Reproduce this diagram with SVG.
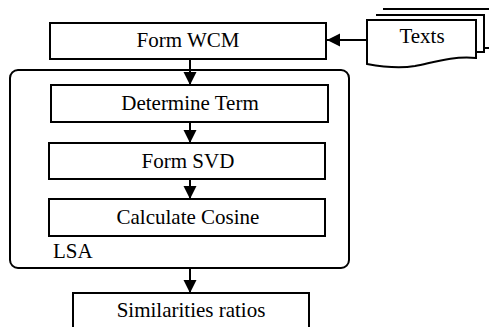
<svg xmlns="http://www.w3.org/2000/svg" width="489" height="327" viewBox="0 0 489 327">
<defs>
<style>
.box{fill:#fff;stroke:#000;stroke-width:2}
.ln{stroke:#000;stroke-width:2;fill:none}
.t{font-family:'Liberation Serif',serif;font-size:21px;fill:#000;stroke:none;text-anchor:middle}
</style>
<marker id="ah" markerWidth="13" markerHeight="14" refX="14" refY="7" orient="auto" markerUnits="userSpaceOnUse" viewBox="0 0 14 14">
<path d="M0,0 L14,7 L0,14 Z" fill="#000"/>
</marker>
</defs>
<rect width="489" height="327" fill="#fff"/>
<g id="lsa">
<rect class="box" x="10" y="70" width="339" height="198" rx="8"/>
<text class="t" x="53" y="258" style="text-anchor:start">LSA</text>
</g>
<g id="texts">
<path class="box" d="M383,9 H492 V48 H484"/>
<path class="box" d="M376,15 H484 V52 H476"/>
<path class="box" d="M367,20 H476 V58 C452,56 435,62 415,66 C398,69 383,67 367,64 Z"/>
<text class="t" x="422" y="43">Texts</text>
</g>
<g id="formwcm">
<rect class="box" x="50" y="23" width="276" height="36"/>
<text class="t" x="188" y="47">Form WCM</text>
</g>
<g id="determine">
<rect class="box" x="51" y="85" width="277" height="37"/>
<text class="t" x="190" y="110">Determine Term</text>
</g>
<g id="svd">
<rect class="box" x="49" y="143" width="276" height="36"/>
<text class="t" x="188" y="168">Form SVD</text>
</g>
<g id="cosine">
<rect class="box" x="49" y="199" width="276" height="37"/>
<text class="t" x="188" y="224">Calculate Cosine</text>
</g>
<g id="similarities">
<rect class="box" x="73" y="293" width="236" height="40"/>
<text class="t" x="191" y="317">Similarities ratios</text>
</g>
<g id="connectors">
<line class="ln" x1="367" y1="40" x2="327" y2="40" marker-end="url(#ah)"/>
<line class="ln" x1="190" y1="59" x2="190" y2="85" marker-end="url(#ah)"/>
<line class="ln" x1="190" y1="122" x2="190" y2="143" marker-end="url(#ah)"/>
<line class="ln" x1="190" y1="179" x2="190" y2="199" marker-end="url(#ah)"/>
<line class="ln" x1="190" y1="268" x2="190" y2="293" marker-end="url(#ah)"/>
</g>
</svg>
